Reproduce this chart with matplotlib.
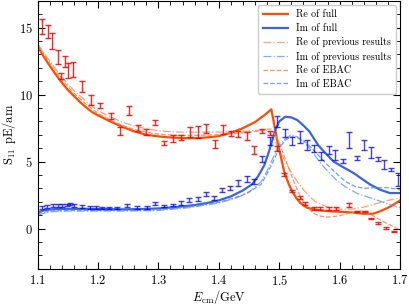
import matplotlib
matplotlib.use('Agg')
import matplotlib.pyplot as plt
import numpy as np

plt.rcParams['font.family'] = 'serif'
plt.rcParams['font.serif'] = ['cmr10', 'DejaVu Serif']
plt.rcParams['mathtext.fontset'] = 'cm'
plt.rcParams['axes.formatter.use_mathtext'] = True

# data points: Re
re_E = [1.108, 1.118, 1.123, 1.133, 1.138, 1.146, 1.151, 1.159, 1.174, 1.189, 1.204, 1.221,
        1.236, 1.251, 1.266, 1.280, 1.295, 1.310, 1.324, 1.337, 1.352, 1.365, 1.379, 1.393,
        1.407, 1.420, 1.432, 1.446, 1.459, 1.471, 1.484, 1.497, 1.508, 1.521, 1.534, 1.543,
        1.557, 1.568, 1.582, 1.594, 1.616, 1.629, 1.642, 1.652, 1.663, 1.676, 1.690]
re_v = [15.07, 14.7, 14.0, 12.8, 11.4, 12.5, 11.8, 11.9, 10.6, 9.6, 9.2, 8.4,
        7.3, 8.8, 7.5, 7.2, 7.9, 6.4, 6.7, 6.8, 7.2, 7.2, 7.45, 6.3,
        7.4, 7.1, 7.05, 6.9, 5.9, 7.25, 7.1, 6.0, 4.05, 2.8, 2.3, 1.85,
        1.5, 1.5, 1.5, 1.5, 1.75, 1.25, 1.25, 0.75, 0.4, 0.05, -0.2]
re_err = [0.55, 0.5, 0.6, 0.5, 0.25, 0.4, 0.55, 0.55, 0.4, 0.35, 0.2, 0.25,
          0.3, 0.35, 0.2, 0.2, 0.2, 0.15, 0.25, 0.2, 0.4, 0.45, 0.35, 0.3,
          0.35, 0.2, 0.25, 0.3, 0.3, 0.15, 0.15, 0.2, 0.1, 0.1, 0.1, 0.1,
          0.1, 0.1, 0.1, 0.1, 0.15, 0.05, 0.05, 0.05, 0.05, 0.05, 0.05]

# data points: Im
im_E = [1.108, 1.116, 1.125, 1.133, 1.141, 1.149, 1.154, 1.161, 1.174, 1.186, 1.196, 1.207,
        1.219, 1.232, 1.248, 1.265, 1.281, 1.295, 1.310, 1.324, 1.337, 1.351, 1.365, 1.379,
        1.392, 1.405, 1.419, 1.432, 1.446, 1.458, 1.472, 1.485, 1.497, 1.509, 1.521, 1.534,
        1.546, 1.557, 1.569, 1.582, 1.593, 1.606, 1.616, 1.629, 1.641, 1.652, 1.663, 1.674,
        1.685, 1.696]
im_v = [1.55, 1.65, 1.7, 1.7, 1.72, 1.75, 1.82, 1.72, 1.62, 1.58, 1.58, 1.52,
        1.52, 1.52, 1.73, 1.55, 1.58, 1.85, 1.68, 1.75, 1.93, 2.1, 2.2, 2.55,
        2.3, 2.9, 3.05, 3.4, 3.7, 3.5, 5.2, 6.55, 8.0, 7.1, 6.55, 6.85,
        6.25, 6.0, 5.4, 5.9, 5.5, 5.05, 6.6, 5.25, 6.25, 5.7, 5.2, 4.8,
        4.4, 3.65]
im_err = [0.1, 0.1, 0.1, 0.1, 0.1, 0.1, 0.1, 0.1, 0.1, 0.1, 0.1, 0.1,
          0.1, 0.1, 0.1, 0.1, 0.1, 0.1, 0.1, 0.1, 0.15, 0.15, 0.15, 0.15,
          0.15, 0.15, 0.15, 0.2, 0.2, 0.2, 0.2, 0.3, 0.4, 0.3, 0.3, 0.45,
          0.35, 0.25, 0.3, 0.3, 0.4, 0.15, 0.6, 0.15, 0.35, 0.4, 0.15, 0.35,
          0.1, 0.5]

# Re of full
rf_E = [1.10, 1.11, 1.12, 1.13, 1.14, 1.15, 1.16, 1.17, 1.18, 1.19, 1.20, 1.22, 1.24, 1.26,
        1.28, 1.30, 1.32, 1.34, 1.36, 1.38, 1.40, 1.42, 1.44, 1.46, 1.475, 1.487, 1.492,
        1.497, 1.503, 1.508, 1.515, 1.521, 1.528, 1.535, 1.546, 1.56, 1.58, 1.60, 1.62,
        1.64, 1.655, 1.665, 1.68, 1.69, 1.70]
rf_v = [13.6, 12.85, 12.15, 11.5, 10.9, 10.35, 9.9, 9.45, 9.05, 8.7, 8.45, 8.0, 7.6, 7.25,
        7.0, 6.88, 6.8, 6.75, 6.74, 6.8, 6.9, 7.15, 7.5, 7.95, 8.45, 8.9, 7.7,
        6.5, 5.3, 4.3, 3.4, 2.8, 2.3, 1.9, 1.55, 1.4, 1.3, 1.25, 1.2,
        1.1, 1.1, 1.25, 1.55, 1.8, 2.1]

# Im of full
if_E = [1.10, 1.11, 1.12, 1.13, 1.15, 1.18, 1.21, 1.24, 1.27, 1.30, 1.33, 1.36, 1.38, 1.40,
        1.42, 1.44, 1.455, 1.465, 1.475, 1.482, 1.488, 1.494, 1.50, 1.51, 1.52, 1.53, 1.54,
        1.55, 1.557, 1.565, 1.574, 1.59, 1.607, 1.623, 1.634, 1.65, 1.667, 1.683, 1.70]
if_v = [1.2, 1.35, 1.42, 1.45, 1.47, 1.47, 1.45, 1.43, 1.45, 1.5, 1.6, 1.75, 1.9, 2.1,
        2.4, 2.85, 3.3, 3.9, 4.7, 5.6, 6.5, 7.4, 8.0, 8.35, 8.3, 8.1, 7.7,
        7.25, 6.75, 6.2, 5.75, 5.0, 4.55, 4.15, 3.8, 3.3, 2.9, 2.65, 2.65]

# Re of previous results
rp_E = [1.10, 1.12, 1.14, 1.16, 1.18, 1.20, 1.22, 1.24, 1.26, 1.28, 1.30, 1.33, 1.36, 1.40,
        1.44, 1.47, 1.48, 1.49, 1.50, 1.51, 1.52, 1.53, 1.54, 1.55, 1.56, 1.58, 1.60, 1.62,
        1.64, 1.66, 1.68, 1.70]
rp_v = [13.8, 12.5, 11.3, 10.3, 9.5, 8.8, 8.35, 7.95, 7.65, 7.45, 7.3, 7.2, 7.2, 7.2,
        7.25, 7.35, 7.35, 6.8, 5.9, 5.0, 4.2, 3.5, 2.9, 2.4, 2.0, 1.6, 1.45, 1.45,
        1.6, 1.85, 2.1, 2.3]

# Im of previous results
ip_E = [1.10, 1.12, 1.15, 1.20, 1.25, 1.30, 1.35, 1.40, 1.43, 1.45, 1.47, 1.48, 1.49, 1.50,
        1.51, 1.52, 1.53, 1.54, 1.55, 1.56, 1.57, 1.58, 1.595, 1.61, 1.63, 1.65, 1.67,
        1.685, 1.70]
ip_v = [1.0, 1.25, 1.3, 1.3, 1.3, 1.35, 1.55, 1.9, 2.3, 2.7, 3.5, 4.3, 5.3, 6.2,
        6.7, 7.0, 6.85, 6.5, 6.0, 5.4, 4.8, 4.3, 3.6, 3.1, 2.6, 2.3, 2.0,
        1.75, 1.55]

# Re of EBAC
re_E_ebac = [1.10, 1.12, 1.14, 1.16, 1.18, 1.20, 1.22, 1.24, 1.26, 1.28, 1.30, 1.33, 1.36,
             1.40, 1.44, 1.47, 1.485, 1.495, 1.505, 1.515, 1.525, 1.535, 1.545, 1.555,
             1.565, 1.58, 1.60, 1.62, 1.635, 1.65, 1.665, 1.68, 1.70]
re_v_ebac = [13.7, 12.35, 11.1, 10.1, 9.3, 8.6, 8.1, 7.7, 7.4, 7.2, 7.05, 6.95, 6.95,
             7.0, 7.15, 7.3, 7.45, 6.9, 5.8, 4.6, 3.4, 2.4, 1.7, 1.2,
             0.95, 0.85, 0.95, 1.2, 1.3, 1.1, 0.7, 0.35, -0.1]

# Im of EBAC
im_E_ebac = [1.10, 1.12, 1.15, 1.20, 1.25, 1.30, 1.35, 1.40, 1.44, 1.46, 1.47, 1.48, 1.49,
             1.50, 1.51, 1.52, 1.53, 1.545, 1.56, 1.58, 1.595, 1.61, 1.625, 1.64, 1.66,
             1.68, 1.70]
im_v_ebac = [1.1, 1.3, 1.35, 1.35, 1.35, 1.4, 1.6, 1.95, 2.5, 3.0, 3.3, 4.1, 5.0,
             6.0, 6.6, 6.85, 6.8, 6.4, 5.7, 4.75, 4.1, 3.5, 3.15, 3.0, 3.05,
             3.05, 2.9]

c_re = '#ff4d00'
c_im = '#3c64dc'
c_re_l = '#ff7f50'
c_im_l = '#5a8ef0'

fig = plt.figure(figsize=(4.09, 3.06), dpi=100)
ax = fig.add_axes([0.092, 0.122, 0.886, 0.875])

ax.plot(rf_E, rf_v, color=c_re, lw=1.6, label='Re of full')
ax.plot(if_E, if_v, color=c_im, lw=1.6, label='Im of full')
ax.plot(rp_E, rp_v, color=c_re_l, lw=0.9, ls='-.', alpha=0.75, label='Re of previous results')
ax.plot(ip_E, ip_v, color=c_im_l, lw=0.9, ls='-.', alpha=0.75, label='Im of previous results')
ax.plot(re_E_ebac, re_v_ebac, color=c_re_l, lw=0.9, ls='--', alpha=0.85, label='Re of EBAC')
ax.plot(im_E_ebac, im_v_ebac, color=c_im_l, lw=0.9, ls='--', alpha=0.85, label='Im of EBAC')

ax.errorbar(re_E, re_v, yerr=re_err, fmt='none', ecolor='red', elinewidth=1.0,
            capsize=2, capthick=1.0, alpha=0.85)
ax.errorbar(im_E, im_v, yerr=im_err, fmt='none', ecolor='blue', elinewidth=1.0,
            capsize=2, capthick=1.0, alpha=0.75)

ax.set_xlim(1.1, 1.7)
ax.set_ylim(-3, 17)
ax.set_xticks([1.1, 1.2, 1.3, 1.4, 1.5, 1.6, 1.7])
ax.set_yticks([0, 5, 10, 15])
ax.xaxis.set_minor_locator(matplotlib.ticker.MultipleLocator(0.02))
ax.yaxis.set_minor_locator(matplotlib.ticker.MultipleLocator(1))
ax.tick_params(which='both', direction='in', top=True, right=True, labelsize=9)
ax.tick_params(which='major', length=5)
ax.tick_params(which='minor', length=3)

ax.set_xlabel(r'$E_{\rm cm}$/GeV', fontsize=9, labelpad=0.5)
ax.set_ylabel(r'S$_{11}$ pE/am', fontsize=9, labelpad=0.5)

ax.legend(loc='upper right', fontsize=7.2, frameon=True, edgecolor='#cccccc',
          framealpha=1, handlelength=2.5, borderpad=0.5, labelspacing=0.42,
          borderaxespad=0.4)

plt.savefig('out.png', dpi=100)
